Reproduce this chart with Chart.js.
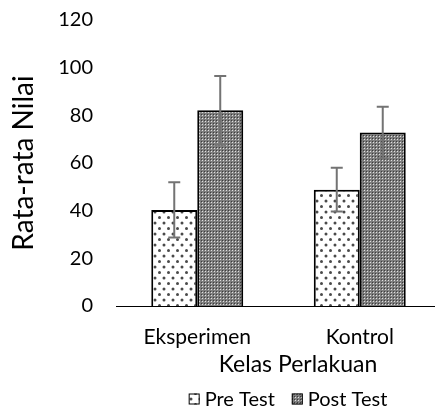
<!DOCTYPE html>
<html>
<head>
<meta charset="utf-8">
<script src="https://cdn.jsdelivr.net/npm/chart.js@4.4.1/dist/chart.umd.min.js"></script>
<style>
  html, body { margin: 0; padding: 0; background: #fff; overflow: hidden; }
  #wrap { width: 435px; height: 409px; overflow: hidden; }
</style>
</head>
<body>
<div id="wrap"><canvas id="nilaiChart" width="445" height="409"></canvas></div>
<script>
// Data
const categories = ['Eksperimen', 'Kontrol'];
const preTest = [40.3, 48.8];
const preTestErr = [11.6, 9.2];
const postTest = [82.1, 72.8];
const postTestErr = [14.4, 10.8];
const yTicks = [0, 20, 40, 60, 80, 100, 120];

const FONT = 'Lato, "Open Sans", sans-serif';

// Dotted pattern for Pre Test
function makePrePattern(ctx) {
    const c = document.createElement('canvas');
    c.width = 9; c.height = 11;
    const p = c.getContext('2d');
    p.fillStyle = '#fff';
    p.fillRect(0, 0, 9, 11);
    p.fillStyle = '#4a4a4a';
    [[2, 3], [6.5, 8.5]].forEach(([x, y]) => {
        p.beginPath();
        p.arc(x, y, 1.5, 0, Math.PI * 2);
        p.fill();
    });
    return ctx.createPattern(c, 'repeat');
}

// Dense grey grid pattern for Post Test
function makePostPattern(ctx) {
    const c = document.createElement('canvas');
    c.width = 3; c.height = 3;
    const p = c.getContext('2d');
    p.fillStyle = '#7e7e7e';
    p.fillRect(0, 0, 3, 3);
    p.fillStyle = '#e0e0e0';
    p.fillRect(1, 1, 1, 1);
    p.fillStyle = '#3c3c3c';
    p.fillRect(0, 0, 1, 1);
    return ctx.createPattern(c, 'repeat');
}

const canvas = document.getElementById('nilaiChart');
const ctx = canvas.getContext('2d');
const prePattern = makePrePattern(ctx);
const postPattern = makePostPattern(ctx);

// Error bars drawn on top of the bars
const errorBarPlugin = {
    id: 'errorBars',
    afterDatasetsDraw(chart) {
        const y = chart.scales.y;
        const errs = [preTestErr, postTestErr];
        const c = chart.ctx;
        c.save();
        c.strokeStyle = '#737373';
        c.lineWidth = 2;
        chart.data.datasets.forEach((ds, i) => {
            chart.getDatasetMeta(i).data.forEach((bar, j) => {
                const v = ds.data[j];
                const top = y.getPixelForValue(v + errs[i][j]);
                const bot = y.getPixelForValue(v - errs[i][j]);
                const x = bar.x;
                c.beginPath();
                c.moveTo(x, top); c.lineTo(x, bot);
                c.moveTo(x - 6, top); c.lineTo(x + 6, top);
                c.moveTo(x - 6, bot); c.lineTo(x + 6, bot);
                c.stroke();
            });
        });
        c.restore();
    }
};

// Axis title and legend placed like the original
const bottomTextPlugin = {
    id: 'bottomText',
    afterDraw(chart) {
        const c = chart.ctx;
        const area = chart.chartArea;
        c.save();
        c.fillStyle = '#000';
        c.textBaseline = 'middle';
        c.textAlign = 'center';
        c.font = '23px ' + FONT;
        c.fillText('Kelas Perlakuan', area.left + 182, area.bottom + 59);

        // legend
        c.font = '20px ' + FONT;
        c.textAlign = 'left';
        const items = [['Pre Test', prePattern], ['Post Test', postPattern]];
        const box = 11, gap = 5, itemGap = 17;
        let total = 0;
        items.forEach(([t], k) => {
            total += box + gap + c.measureText(t).width + (k ? itemGap : 0);
        });
        let x = area.left + 172 - total / 2;
        const ly = area.bottom + 93;
        items.forEach(([t, pat]) => {
            c.fillStyle = pat;
            c.fillRect(x, ly - box / 2, box, box);
            c.strokeStyle = '#000';
            c.lineWidth = 1;
            c.strokeRect(x + 0.5, ly - box / 2 + 0.5, box - 1, box - 1);
            c.fillStyle = '#000';
            c.fillText(t, x + box + gap, ly + 1);
            x += box + gap + c.measureText(t).width + itemGap;
        });
        c.restore();
    }
};

new Chart(ctx, {
    type: 'bar',
    data: {
        labels: categories,
        datasets: [{
            label: 'Pre Test',
            data: preTest,
            backgroundColor: prePattern,
            borderColor: '#000',
            borderWidth: 2,
            borderSkipped: 'bottom'
        }, {
            label: 'Post Test',
            data: postTest,
            backgroundColor: postPattern,
            borderColor: '#000',
            borderWidth: 2,
            borderSkipped: 'bottom'
        }]
    },
    options: {
        responsive: false,
        animation: false,
        categoryPercentage: 0.566,
        barPercentage: 1.0,
        layout: {
            padding: { top: 20, right: 4, bottom: 43, left: 4 }
        },
        plugins: {
            legend: { display: false },
            tooltip: { enabled: false }
        },
        scales: {
            x: {
                grid: { display: false, drawTicks: false },
                border: { display: true, color: '#000', width: 1 },
                ticks: {
                    color: '#000',
                    padding: 19,
                    font: { family: FONT, size: 21 }
                },
                afterFit(axis) {
                    axis.height = 60;
                    axis.paddingLeft = 0;
                    axis.paddingRight = 0;
                }
            },
            y: {
                min: 0,
                max: 120,
                afterBuildTicks(axis) {
                    axis.ticks = yTicks.map(v => ({ value: v }));
                },
                grid: { display: false, drawTicks: false },
                border: { display: false },
                ticks: {
                    color: '#000',
                    padding: 23,
                    font: { family: FONT, size: 20, lineHeight: 1 }
                },
                title: {
                    display: true,
                    text: 'Rata-rata Nilai',
                    color: '#000',
                    padding: { top: 3, bottom: 18 },
                    font: { family: FONT, size: 28 }
                },
                afterFit(axis) {
                    axis.width = 112;
                    axis.paddingTop = 0;
                    axis.paddingBottom = 0;
                }
            }
        }
    },
    plugins: [errorBarPlugin, bottomTextPlugin]
});
</script>
</body>
</html>
